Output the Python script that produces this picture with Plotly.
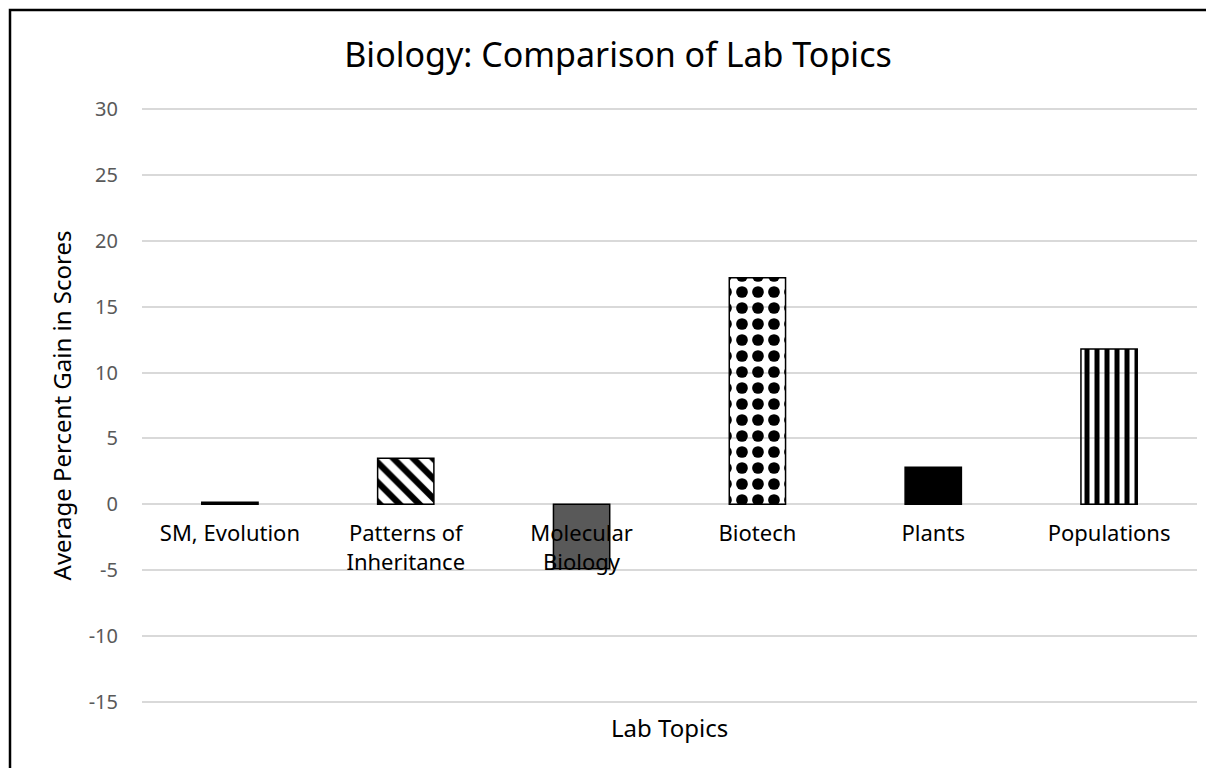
import plotly.graph_objects as go

categories = ["SM, Evolution", "Patterns of Inheritance", "Molecular Biology", "Biotech", "Plants", "Populations"]
tick_labels = ["SM, Evolution", "Patterns of<br>Inheritance", "Molecular<br>Biology", "Biotech", "Plants", "Populations"]
values = [0.15, 3.5, -4.9, 17.2, 2.8, 11.8]
y_ticks = [-15, -10, -5, 0, 5, 10, 15, 20, 25, 30]
y_tick_text = ["-15", "-10", "-5", "0", "5", "10", "15", "20", "25", "30"]

fill_colors = ["#000000", "#000000", "#595959", "#000000", "#000000", "#000000"]
pattern_shapes = ["", "\\", "", ".", "", "|"]
pattern_sizes = [8, 14, 8, 16, 8, 10]
pattern_solidity = [0.3, 0.45, 0.3, 0.42, 0.3, 0.5]
pattern_fg = ["#000000", "#000000", "#595959", "#000000", "#000000", "#000000"]
pattern_bg = ["#ffffff", "#ffffff", "#ffffff", "#ffffff", "#ffffff", "#ffffff"]

FONT = "Noto Sans"

# body margin of 8px in the written page: plot area placed at page x 142..1197, y 108..703
OFF = 8
W, H = 1214 - OFF, 768 - OFF
ML, MT = 142 - OFF, 108 - OFF
PW, PH = 1055, 595
MR = W - ML - PW
MB = H - MT - PH

Y0, Y1 = -15.1, 30.1

fig = go.Figure()
fig.add_trace(go.Bar(
    x=categories,
    y=values,
    width=0.32,
    marker=dict(
        color=fill_colors,
        line=dict(color="#000000", width=1.5),
        pattern=dict(
            shape=pattern_shapes,
            size=pattern_sizes,
            solidity=pattern_solidity,
            fgcolor=pattern_fg,
            bgcolor=pattern_bg,
            fillmode="replace",
        ),
    ),
    showlegend=False,
))

fig.update_layout(
    width=W,
    height=H,
    autosize=False,
    margin=dict(l=ML, r=MR, t=MT, b=MB, pad=0),
    paper_bgcolor="white",
    plot_bgcolor="white",
    font=dict(family=FONT, color="#000000"),
    title=dict(
        text="Biology: Comparison of Lab Topics",
        x=(618 - 142) / PW, xref="paper", xanchor="center",
        y=1 - (55 - OFF) / H, yref="container", yanchor="middle",
        font=dict(size=34, family=FONT, color="#000000"),
    ),
    xaxis=dict(
        type="category",
        tickvals=categories,
        ticktext=tick_labels,
        anchor="free",
        position=(0 - Y0) / (Y1 - Y0),
        showgrid=False,
        showline=False,
        zeroline=False,
        ticks="",
        ticklabelstandoff=14,
        tickfont=dict(size=22, family=FONT, color="#000000"),
        range=[-0.5, 5.5],
    ),
    yaxis=dict(
        range=[Y0, Y1],
        tickvals=y_ticks,
        ticktext=y_tick_text,
        showgrid=True,
        gridcolor="#d9d9d9",
        gridwidth=1.5,
        zeroline=True,
        zerolinecolor="#d9d9d9",
        zerolinewidth=1.5,
        showline=False,
        ticks="",
        ticklabelstandoff=23,
        tickfont=dict(size=20, family=FONT, color="#595959"),
        title=dict(text="Average Percent Gain in Scores", standoff=10,
                   font=dict(size=24, family=FONT, color="#000000")),
    ),
    annotations=[dict(
        text="Lab Topics", x=(669 - 142) / PW, y=(703 - 727) / PH, xref="paper", yref="paper",
        xanchor="center", yanchor="middle", showarrow=False,
        font=dict(size=24, family=FONT, color="#000000"),
    )],
    shapes=[dict(
        type="rect", xref="paper", yref="paper",
        x0=(10 - 142) / PW, x1=1.2, y0=-0.3, y1=(703 - 10) / PH,
        line=dict(color="#000000", width=2.5), fillcolor="rgba(0,0,0,0)",
        layer="above",
    )],
)

fig.write_html("out.html")
